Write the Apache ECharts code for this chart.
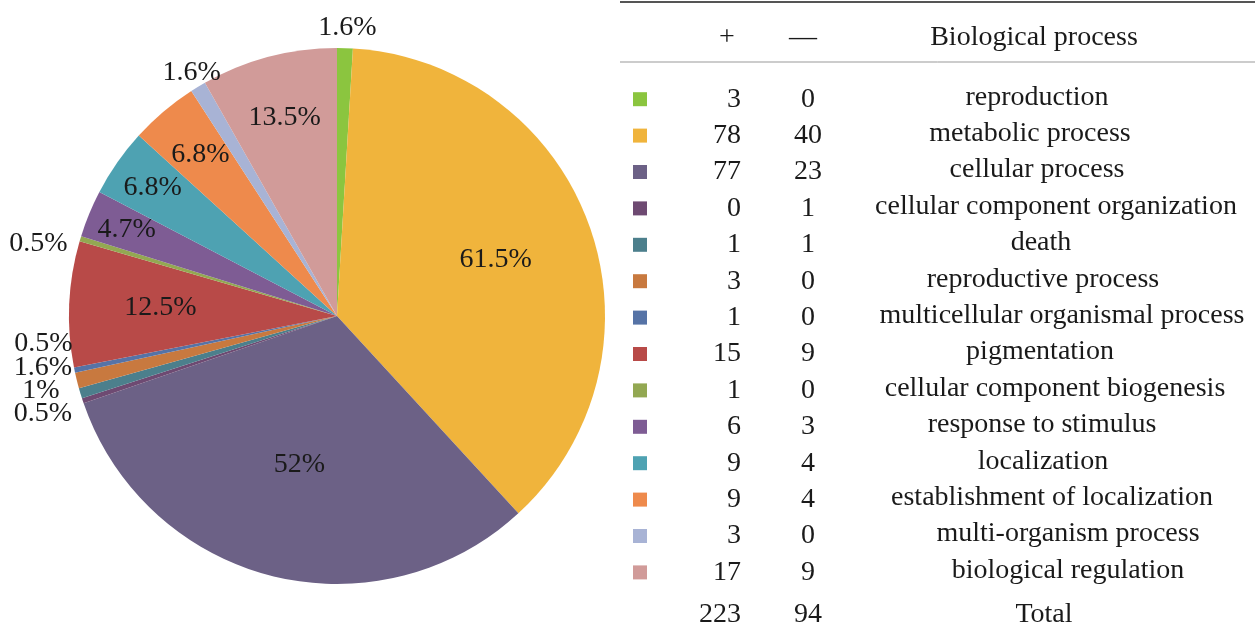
<!DOCTYPE html>
<html>
<head>
<meta charset="utf-8">
<script src="https://cdn.jsdelivr.net/npm/echarts@6/dist/echarts.min.js"></script>
<style>
html,body{margin:0;padding:0;background:#ffffff;}
#chart{width:1255px;height:630px;}
</style>
</head>
<body>
<div id="chart"></div>
<script>
// ---------------- DATA ----------------
const processes = [
  'reproduction', 'metabolic process', 'cellular process', 'cellular component organization',
  'death', 'reproductive process', 'multicellular organismal process', 'pigmentation',
  'cellular component biogenesis', 'response to stimulus', 'localization',
  'establishment of localization', 'multi-organism process', 'biological regulation'
];
const upCounts   = [3, 78, 77, 0, 1, 3, 1, 15, 1, 6, 9, 9, 3, 17];
const downCounts = [0, 40, 23, 1, 1, 0, 0, 9, 0, 3, 4, 4, 0, 9];
const pieValues  = [3, 118, 100, 1, 2, 3, 1, 24, 1, 9, 13, 13, 3, 26];
const pieLabels  = ['1.6%', '61.5%', '52%', '0.5%', '1%', '1.6%', '0.5%', '12.5%', '0.5%', '4.7%', '6.8%', '6.8%', '1.6%', '13.5%'];
const totalName  = 'Total';
const totalUp    = 223;
const totalDown  = 94;
const headers    = ['+', '—', 'Biological process'];

// ---------------- STYLE / LAYOUT ----------------
const colors = [
  '#8BC53F', '#F0B43C', '#6C6186', '#6E4A72', '#4C7F8C', '#C8793F', '#5673A6',
  '#B84A48', '#93A852', '#7E5C94', '#4EA2B2', '#EE8A4C', '#A8B3D5', '#D19B99'
];
const FONT = '"Liberation Serif", "Times New Roman", serif';
const FS = 28;
const TXT = '#1a1a1a';
const PIE_CENTER = [337, 316];
const PIE_R = 268;
// inside labels: radial stretch of the library's inside label position (0 = outside label)
const labelRadial = [0, 1.23, 1.12, 0, 0, 0, 0, 1.29, 0, 1.66, 1.64, 1.54, 0, 1.50];
// outside labels: small nudge [dx, dy] from the library's outside position
const outsideShift = [[-32, -14], null, null, [0, 11], [-10, -4], [6, -14], [9, -28], null, [-2, 7], null, null, null, [31, -9], null];
// table columns (offset in px from the table's left edge) and per-row nudges of the name text
const TABLE_LEFT = 620;
const COL = { square: 20, plus: 121, minus: 188, name: 428 };
const nameShift = [-11, -18, -11, 8, -7, -5, 14, -8, 7, -6, -5, 4, 20, 20, -4];

const rows = processes.concat([totalName]);
const plusCol = upCounts.concat([totalUp]);
const minusCol = downCounts.concat([totalDown]);
const isTotal = (i) => i === rows.length - 1;

const pieData = processes.map((p, i) => ({
  name: p,
  value: pieValues[i],
  itemStyle: { color: colors[i] },
  label: labelRadial[i] ? { position: 'inside' } : { position: 'outside' }
}));

const option = {
  backgroundColor: '#ffffff',
  animation: false,
  textStyle: { fontFamily: FONT },
  grid: { left: TABLE_LEFT, right: 0, top: 81, bottom: 3 },
  xAxis: { type: 'value', min: 0, max: 635, show: false },
  yAxis: { type: 'category', data: rows, inverse: true, show: false },
  graphic: [
    { type: 'line', shape: { x1: TABLE_LEFT, y1: 2, x2: 1255, y2: 2 }, style: { stroke: '#555', lineWidth: 2 } },
    { type: 'line', shape: { x1: TABLE_LEFT, y1: 62, x2: 1255, y2: 62 }, style: { stroke: '#999', lineWidth: 1 } },
    { type: 'text', x: 727, y: 38, style: { text: headers[0], font: `${FS}px ${FONT}`, fill: TXT, align: 'center', verticalAlign: 'middle' } },
    { type: 'text', x: 803, y: 38, style: { text: headers[1], font: `${FS}px ${FONT}`, fill: TXT, align: 'center', verticalAlign: 'middle' } },
    { type: 'text', x: 1034, y: 38, style: { text: headers[2], font: `${FS}px ${FONT}`, fill: TXT, align: 'center', verticalAlign: 'middle' } }
  ],
  series: [
    {
      type: 'pie',
      center: PIE_CENTER,
      radius: [0, PIE_R],
      startAngle: 90,
      clockwise: true,
      avoidLabelOverlap: false,
      silent: true,
      data: pieData,
      label: {
        show: true,
        formatter: (p) => pieLabels[p.dataIndex],
        fontFamily: FONT,
        fontSize: FS,
        color: TXT
      },
      labelLine: { show: false, length: 6, length2: 0 },
      labelLayout: function (params) {
        const i = params.dataIndex;
        const r = params.labelRect;
        const cx = r.x + r.width / 2;
        const cy = r.y + r.height / 2;
        const k = labelRadial[i];
        if (k) {
          return {
            x: PIE_CENTER[0] + (cx - PIE_CENTER[0]) * k,
            y: PIE_CENTER[1] + (cy - PIE_CENTER[1]) * k,
            align: 'center', verticalAlign: 'middle'
          };
        }
        const s = outsideShift[i] || [0, 0];
        return { x: cx + s[0], y: cy + s[1], align: 'center', verticalAlign: 'middle' };
      }
    },
    {
      type: 'scatter',
      silent: true,
      symbol: 'rect',
      symbolSize: 14,
      itemStyle: { opacity: 1 },
      data: processes.map((p, i) => ({ value: [COL.square, p], itemStyle: { color: colors[i] } }))
    },
    {
      type: 'scatter',
      silent: true,
      symbolSize: 0,
      itemStyle: { opacity: 1 },
      data: rows.map((p, i) => ({ value: [COL.plus, p, plusCol[i]], label: { offset: isTotal(i) ? [0, 6] : [0, 0] } })),
      label: {
        show: true, position: 'left', distance: 0,
        formatter: (p) => String(p.value[2]),
        fontFamily: FONT, fontSize: FS, color: TXT
      }
    },
    {
      type: 'scatter',
      silent: true,
      symbolSize: 0,
      itemStyle: { opacity: 1 },
      data: rows.map((p, i) => ({ value: [COL.minus, p, minusCol[i]], label: { offset: isTotal(i) ? [0, 6] : [0, 0] } })),
      label: {
        show: true, position: 'inside',
        formatter: (p) => String(p.value[2]),
        fontFamily: FONT, fontSize: FS, color: TXT
      }
    },
    {
      type: 'scatter',
      silent: true,
      symbolSize: 0,
      itemStyle: { opacity: 1 },
      data: rows.map((p, i) => ({ value: [COL.name, p], label: { offset: [nameShift[i], isTotal(i) ? 6 : -2] } })),
      label: {
        show: true, position: 'inside',
        formatter: (p) => p.value[1],
        fontFamily: FONT, fontSize: FS, color: TXT
      }
    }
  ]
};

const chart = echarts.init(document.getElementById('chart'), null, { renderer: 'canvas' });
chart.setOption(option);
</script>
</body>
</html>
